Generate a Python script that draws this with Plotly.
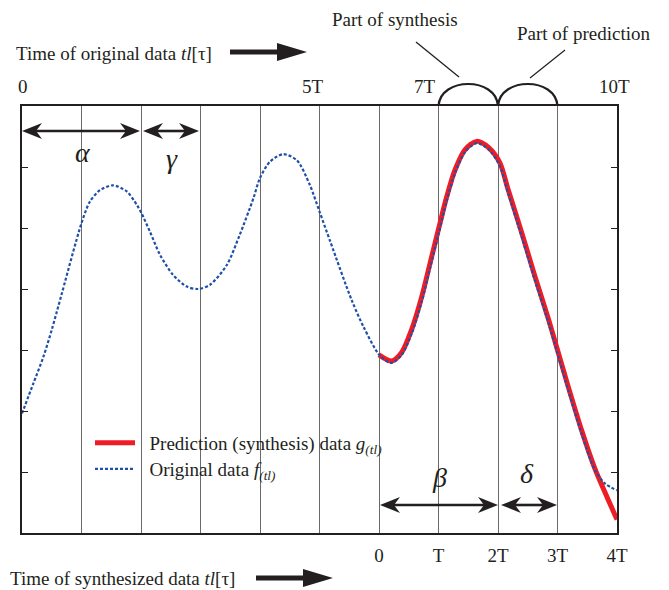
import plotly.graph_objects as go

# ---- data (x in units of T of the original time axis, y in plot units) ----
orig_x = [0.00, 0.19, 0.36, 0.50, 0.58, 0.64, 1.00, 1.14, 1.31, 1.53, 1.76, 1.93, 2.01, 2.15,
          2.32, 2.54, 2.77, 2.96, 3.16, 3.44, 3.66, 3.89, 4.00, 4.17, 4.39, 4.62, 4.84, 5.00,
          5.18, 5.54, 5.74, 6.02, 6.21, 6.38, 6.55, 6.72, 6.86, 7.00, 7.14, 7.28, 7.45, 7.64,
          7.84, 8.03, 8.17, 8.40, 8.62, 8.85, 9.00, 9.18, 9.41, 9.63, 9.80, 10.00]
orig_y = [1.96, 2.45, 2.89, 3.33, 3.61, 3.82, 5.08, 5.43, 5.62, 5.70, 5.60, 5.38, 5.24, 4.94,
          4.56, 4.23, 4.04, 4.00, 4.07, 4.39, 4.89, 5.49, 5.82, 6.09, 6.21, 6.11, 5.70, 5.27,
          4.78, 3.82, 3.38, 2.90, 2.79, 2.92, 3.27, 3.80, 4.35, 4.90, 5.45, 5.90, 6.25, 6.39,
          6.29, 6.02, 5.57, 4.85, 4.14, 3.44, 2.94, 2.34, 1.61, 1.03, 0.81, 0.70]

pred_x = [6.00, 6.21, 6.38, 6.55, 6.72, 6.86, 7.00, 7.14, 7.28, 7.45, 7.64, 7.84, 8.03, 8.17,
          8.40, 8.62, 8.85, 9.00, 9.18, 9.41, 9.63, 9.85, 10.00]
pred_y = [2.92, 2.82, 2.96, 3.34, 3.88, 4.43, 4.98, 5.52, 5.96, 6.29, 6.42, 6.32, 6.07, 5.63,
          4.92, 4.21, 3.50, 3.00, 2.40, 1.67, 1.05, 0.55, 0.22]

bottom_tickvals = [6, 7, 8, 9, 10]
bottom_ticktext = ["0", "T", "2T", "3T", "4T"]
top_labels = ["0", "5T", "7T", "10T"]
top_label_pos = [0, 5, 7, 10]
top_label_shift = [1, -7, -14, -3]
ytick_vals = [1, 2, 3, 4, 5, 6]

# ---- layout geometry (reference pixels; the page body adds an 8px offset) ----
OFF = 8
W, H = 669 - OFF, 590 - OFF
L, R, T, B = 22, 617, 106, 533
FONT = "Liberation Serif, Times New Roman, serif"
INK = "#231f20"
FS = 19
GRID = "#6a6a6a"


def px2x(px):
    return (px - L) / (R - L) * 10


def px2p(px):
    return (px - L) / (R - L)


def py2p(py):
    return (B - py) / (B - T)


fig = go.Figure()
fig.add_trace(go.Scatter(x=pred_x, y=pred_y, mode="lines", legend="legend",
                         name="&nbsp;&nbsp;Prediction (synthesis) data <i>g</i><sub><i>(tl)</i></sub>",
                         line=dict(color="#ee1c25", width=5, shape="spline", smoothing=0.8)))
fig.add_trace(go.Scatter(x=orig_x, y=orig_y, mode="lines", legend="legend2",
                         name="&nbsp;&nbsp;Original data <i>f</i><sub><i>(tl)</i></sub>",
                         line=dict(color="#1f4fa8", width=2.2, dash="3px,2px", shape="spline", smoothing=0.8)))

ann = []
txtfont = dict(size=FS, family=FONT, color=INK)
# top labels
for t, v, s in zip(top_labels, top_label_pos, top_label_shift):
    ann.append(dict(x=v, y=py2p(87), xref="x", yref="paper", text=t, showarrow=False, xshift=s,
                    xanchor="center", yanchor="middle", font=txtfont))
# axis titles
ann.append(dict(x=px2p(14), y=py2p(53), xref="paper", yref="paper", xanchor="left", yanchor="middle",
                text="Time of original data <i>tl</i>[τ]", showarrow=False, font=txtfont))
ann.append(dict(x=px2p(8), y=py2p(578), xref="paper", yref="paper", xanchor="left", yanchor="middle",
                text="Time of synthesized data <i>tl</i>[τ]", showarrow=False, font=txtfont))
ann.append(dict(x=px2p(395), y=py2p(19), xref="paper", yref="paper", xanchor="center", yanchor="middle",
                text="Part of synthesis", showarrow=False, font=txtfont))
ann.append(dict(x=px2p(583), y=py2p(33), xref="paper", yref="paper", xanchor="center", yanchor="middle",
                text="Part of prediction", showarrow=False, font=txtfont))
# greek letters
for txt, px, py in [("α", 83, 152), ("γ", 172, 158), ("β", 440, 477), ("δ", 527, 473)]:
    ann.append(dict(x=px2p(px), y=py2p(py), xref="paper", yref="paper", text="<i>%s</i>" % txt,
                    xanchor="center", yanchor="middle", showarrow=False,
                    font=dict(size=28, family=FONT, color=INK)))

shapes = []


def poly(pts):
    path = "M" + " L".join("%g,%g" % (px2x(a), py2p(b)) for a, b in pts) + " Z"
    return dict(type="path", xref="x", yref="paper", path=path, fillcolor=INK, line=dict(width=0))


# double arrows inside the plot (barbed heads)
def double_arrow(x0, x1, yc, head=20, back=14, hh=8, sw=1.3):
    out = [poly([(x0 + back, yc - sw), (x1 - back, yc - sw), (x1 - back, yc + sw), (x0 + back, yc + sw)])]
    out.append(poly([(x1, yc), (x1 - head, yc - hh), (x1 - back, yc), (x1 - head, yc + hh)]))
    out.append(poly([(x0, yc), (x0 + head, yc - hh), (x0 + back, yc), (x0 + head, yc + hh)]))
    return out


for x0, x1, py in [(22, 140, 131), (143, 199, 131), (380, 498, 505), (501, 557, 505)]:
    shapes.extend(double_arrow(x0, x1, py))

# arcs above the plot
arc_h = 1 + (106 - 84) / (B - T) * 4 / 3
for xa, xb in [(7, 8), (8, 9)]:
    shapes.append(dict(type="path", xref="x", yref="paper",
                       path="M%g,1 C%g,%g %g,%g %g,1" % (xa, xa + 0.03, arc_h, xb - 0.03, arc_h, xb),
                       line=dict(color=INK, width=2.2)))
# leader lines
for (ax0, ay0, ax1, ay1) in [(416, 42, 459, 77), (565, 50, 530, 78)]:
    shapes.append(dict(type="line", xref="x", yref="paper", x0=px2x(ax0), y0=py2p(ay0),
                       x1=px2x(ax1), y1=py2p(ay1), line=dict(color=INK, width=1.3)))


# big right arrows beside the axis titles
def big_arrow(x0, x1, yc, head=30, hh=9, sw=2.6):
    xh = x1 - head
    return poly([(x0, yc - sw), (xh, yc - sw), (xh, yc - hh), (x1, yc), (xh, yc + hh), (xh, yc + sw), (x0, yc + sw)])


shapes.append(big_arrow(230, 307, 52))
shapes.append(big_arrow(256, 333, 578))

leg_common = dict(xanchor="left", yanchor="top", bgcolor="rgba(0,0,0,0)", font=txtfont,
                  itemwidth=40, tracegroupgap=0)

fig.update_layout(
    width=W, height=H,
    margin=dict(l=L - OFF, r=W - (R - OFF), t=T - OFF, b=H - (B - OFF), pad=0),
    paper_bgcolor="white", plot_bgcolor="white",
    font=dict(family=FONT, size=FS, color=INK),
    showlegend=True,
    legend=dict(x=px2p(90), y=py2p(424), **leg_common),
    legend2=dict(x=px2p(90), y=py2p(450), **leg_common),
    annotations=ann, shapes=shapes,
    xaxis=dict(range=[0, 10], tickvals=bottom_tickvals, ticktext=bottom_ticktext, showgrid=True,
               gridcolor=GRID, gridwidth=1.2, showline=True, linecolor=INK, linewidth=1.8,
               mirror=True, ticks="", zeroline=False, ticklabelstandoff=4, tickfont=txtfont,
               minor=dict(tickmode="linear", tick0=0, dtick=1, showgrid=True, gridcolor=GRID,
                          gridwidth=1.2, ticks="")),
    yaxis=dict(range=[0, 7], tickvals=ytick_vals, showticklabels=False, ticks="inside", ticklen=6,
               tickcolor=INK, tickwidth=1.2, showgrid=False, zeroline=False, showline=True,
               linecolor=INK, linewidth=1.8, mirror="ticks"),
)

fig.write_html("out.html")
